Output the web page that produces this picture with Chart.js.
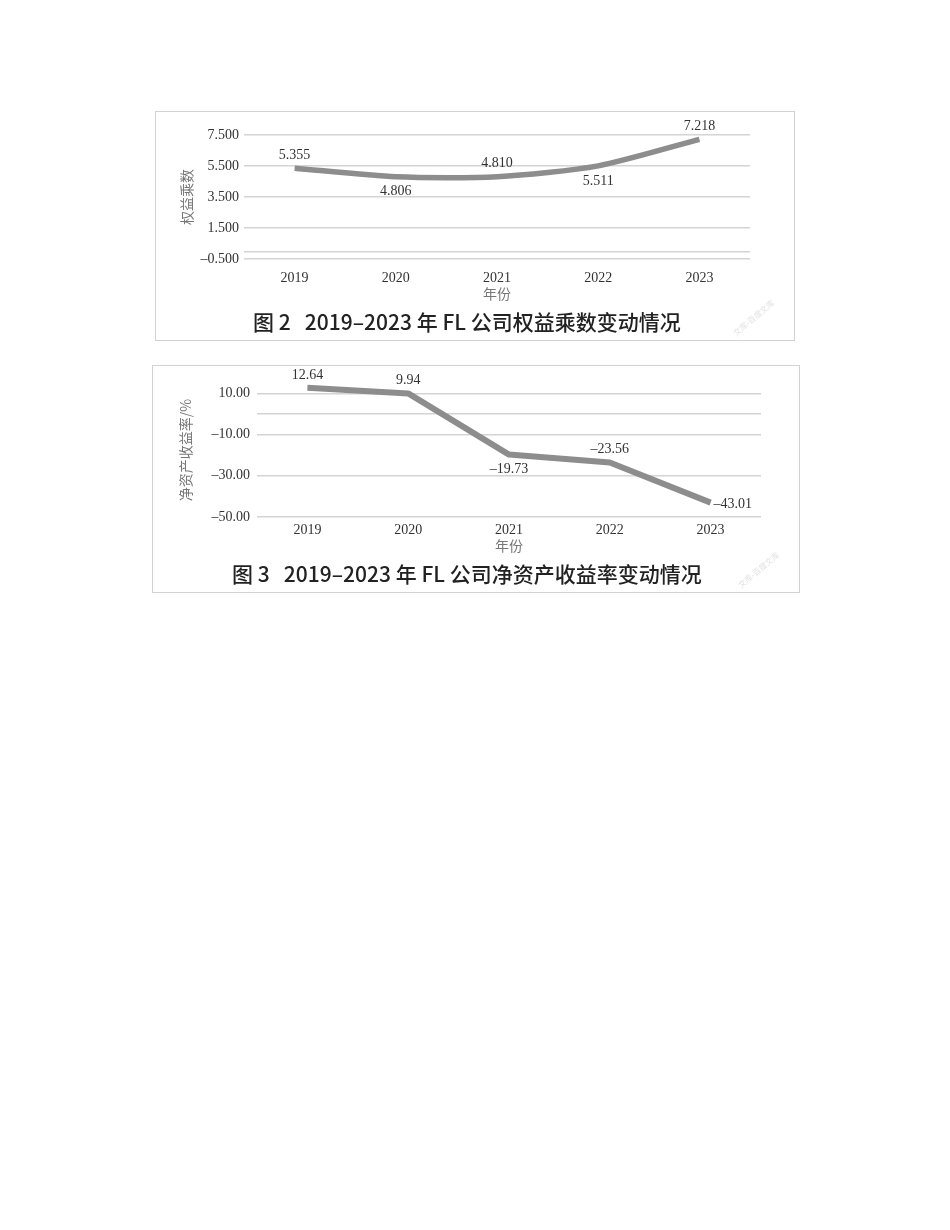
<!DOCTYPE html>
<html lang="zh-CN">
<head>
<meta charset="utf-8">
<title>FL 公司权益乘数与净资产收益率变动情况</title>
<script src="https://cdn.jsdelivr.net/npm/chart.js@4.4.1/dist/chart.umd.min.js"></script>
<style>
  body { margin: 0; background: #fff; width: 950px; height: 1230px; position: relative; }
  .box { position: absolute; border: 1px solid #d2d2d2; box-sizing: border-box; background: #fff; }
  .box canvas { position: absolute; left: 0; top: 0; }
  .cap { position: absolute; white-space: pre; font-family: "Noto Sans CJK SC", "Noto Sans", sans-serif;
         font-size: 21px; font-weight: 500; line-height: 30px; color: #222; }
  .wm { position: absolute; font-family: "Noto Sans CJK SC", sans-serif; font-size: 8px; color: #e2e2e2;
        transform: rotate(-40deg); white-space: nowrap; }
</style>
</head>
<body>

<div class="box" id="box1" style="left:155px; top:111px; width:640px; height:230px;">
  <canvas id="c1" width="638" height="200"></canvas>
  <div class="cap" style="left:97px; top:194px;">图 2   2019–2023 年 FL 公司权益乘数变动情况</div>
  <div class="wm" style="left:572px; top:200px;">文库-百度文库</div>
</div>

<div class="box" id="box2" style="left:152px; top:365px; width:648px; height:228px;">
  <canvas id="c2" width="646" height="200"></canvas>
  <div class="cap" style="left:79px; top:192px;">图 3   2019–2023 年 FL 公司净资产收益率变动情况</div>
  <div class="wm" style="left:580px; top:198px;">文库-百度文库</div>
</div>

<script>
// 数据
const years = ["2019", "2020", "2021", "2022", "2023"];

// 图2 权益乘数
const equityMultiplier = [5.355, 4.806, 4.810, 5.511, 7.218];
const emTicks = [-0.5, 0, 1.5, 3.5, 5.5, 7.5];
const emLabelPos = ["above", "below", "above", "below", "above"];

// 图3 净资产收益率 (%)
const roe = [12.64, 9.94, -19.73, -23.56, -43.01];
const roeTicks = [-50, -30, -10, 0, 10];
const roeLabelPos = ["above", "above", "below", "above", "right"];

const serif = "'Liberation Serif', 'DejaVu Serif', serif";
const cjk = "'Noto Sans CJK SC', sans-serif";
const lineGray = "#8d8d8d";

// 负号用短横线显示
function fmt(v, digits) {
  const s = Math.abs(v).toFixed(digits);
  return v < 0 ? "\u2013" + s : s;
}

// 数据标签插件
const valueLabels = {
  id: "valueLabels",
  afterDatasetsDraw(chart, args, opts) {
    const ctx = chart.ctx;
    const meta = chart.getDatasetMeta(0);
    const data = chart.data.datasets[0].data;
    ctx.save();
    ctx.font = "14px " + serif;
    ctx.fillStyle = "#333";
    meta.data.forEach((pt, i) => {
      const pos = opts.pos[i];
      const txt = fmt(data[i], opts.digits);
      if (pos === "right") {
        ctx.textAlign = "left";
        ctx.textBaseline = "middle";
        ctx.fillText(txt, pt.x + 3, pt.y + 2);
      } else {
        ctx.textAlign = "center";
        ctx.textBaseline = "middle";
        ctx.fillText(txt, pt.x, pos === "above" ? pt.y - 13 : pt.y + 15);
      }
    });
    ctx.restore();
  }
};

function makeChart(id, cfg) {
  return new Chart(document.getElementById(id), {
    type: "line",
    data: {
      labels: years,
      datasets: [{
        data: cfg.values,
        borderColor: lineGray,
        borderWidth: cfg.lineWidth,
        borderCapStyle: "butt",
        borderJoinStyle: "round",
        tension: cfg.tension,
        pointRadius: 0,
        fill: false
      }]
    },
    options: {
      responsive: false,
      animation: false,
      devicePixelRatio: 1,
      layout: { padding: cfg.padding },
      plugins: {
        legend: { display: false },
        tooltip: { enabled: false },
        valueLabels: { pos: cfg.labelPos, digits: cfg.digits }
      },
      scales: {
        x: {
          offset: true,
          grid: { display: false },
          border: { display: false },
          ticks: { color: "#333", font: { family: serif, size: 14 }, padding: cfg.xTickPad, maxRotation: 0 },
          title: { display: true, text: "年份", color: "#777", font: { family: cjk, size: 14 },
                   padding: { top: 0, bottom: cfg.xTitlePad } },
          afterFit: s => { s.height = cfg.xHeight; }
        },
        y: {
          min: cfg.min,
          max: cfg.max,
          afterBuildTicks: axis => { axis.ticks = cfg.ticks.map(v => ({ value: v })); },
          grid: { color: "#d4d4d4", lineWidth: 1.5, drawTicks: false },
          border: { display: false },
          ticks: {
            color: "#333",
            font: { family: serif, size: 14 },
            padding: cfg.yTickPad,
            callback: v => (v === 0 ? "" : fmt(v, cfg.tickDigits))
          },
          title: { display: true, text: cfg.yTitle, color: "#777", font: { family: cjk, size: 14 },
                   padding: { top: 4, bottom: 0 } },
          afterFit: s => { s.width = cfg.yWidth; }
        }
      }
    },
    plugins: [valueLabels]
  });
}

makeChart("c1", {
  values: equityMultiplier,
  labelPos: emLabelPos,
  ticks: emTicks,
  digits: 3,
  tickDigits: 3,
  min: -0.5,
  max: 7.5,
  tension: 0.25,
  lineWidth: 5.5,
  yTitle: "权益乘数",
  padding: { left: 18, top: 23, right: 44, bottom: 0 },
  yWidth: 70,
  xHeight: 53,
  xTickPad: 3,
  xTitlePad: 10,
  yTickPad: 5
});

makeChart("c2", {
  values: roe,
  labelPos: roeLabelPos,
  ticks: roeTicks,
  digits: 2,
  tickDigits: 2,
  min: -50,
  max: 15,
  tension: 0,
  lineWidth: 6,
  yTitle: "净资产收益率/%",
  padding: { left: 20, top: 17, right: 38, bottom: 0 },
  yWidth: 84,
  xHeight: 49,
  xTickPad: -3,
  xTitlePad: 12,
  yTickPad: 7
});
</script>
</body>
</html>
